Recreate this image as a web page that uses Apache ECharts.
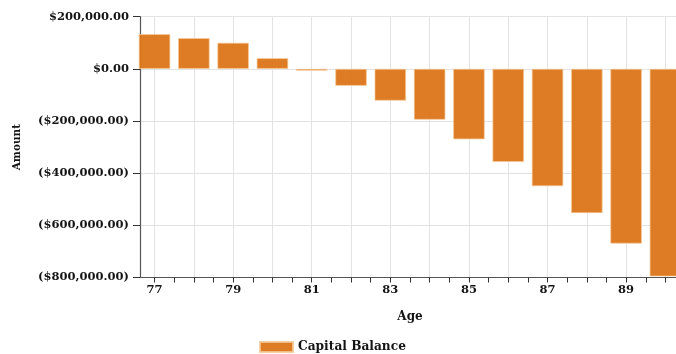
<!DOCTYPE html>
<html>
<head>
<meta charset="utf-8">
<script src="https://cdn.jsdelivr.net/npm/echarts@6/dist/echarts.min.js"></script>
<style>html,body{margin:0;padding:0;background:#fff}#c{width:676px;height:354px}</style>
</head>
<body>
<div id="c"></div>
<script>
const ages = [77, 78, 79, 80, 81, 82, 83, 84, 85, 86, 87, 88, 89, 90];
const capitalBalance = [133000, 118000, 100000, 41000, -7000, -65000, -122000, -195000, -270000, -357000, -450000, -553000, -670000, -796000];
const ageLabels = [77, 79, 81, 83, 85, 87, 89];
const yTicks = [-800000, -600000, -400000, -200000, 0, 200000];
const seriesName = 'Capital Balance';

const FONT = 'DejaVu Serif';
const TXT = '#141414';
const xMin = 76.63, xMax = 90.6;
const halfTicks = [];
ages.forEach(a => { halfTicks.push(a); halfTicks.push(a + 0.5); });

function money(v) {
  const s = '$' + Math.abs(v).toLocaleString('en-US', {minimumFractionDigits: 2, maximumFractionDigits: 2});
  return v < 0 ? '(' + s + ')' : s;
}

const chart = echarts.init(document.getElementById('c'), null, {renderer: 'canvas'});
chart.setOption({
  animation: false,
  grid: {left: 140, width: 549, top: 16.7, bottom: 76.5, containLabel: false, outerBoundsMode: 'none'},
  legend: {
    data: [seriesName], left: 259, top: 341, icon: 'rect', itemWidth: 33, itemHeight: 10, itemGap: 10, padding: 0,
    textStyle: {fontFamily: FONT, fontWeight: 'bold', fontSize: 12.2, color: TXT}
  },
  xAxis: [{
    type: 'value', min: xMin, max: xMax,
    name: 'Age', nameLocation: 'middle', nameGap: 33,
    nameTextStyle: {fontFamily: FONT, fontWeight: 'bold', fontSize: 12, color: TXT, padding: [0, 0, 0, -9]},
    axisLine: {show: true, onZero: false, lineStyle: {color: '#555', width: 1.2}},
    axisTick: {show: true, length: 5, customValues: halfTicks, lineStyle: {color: '#333'}},
    splitLine: {show: false},
    axisLabel: {
      margin: 7, fontFamily: FONT, fontWeight: 'bold', fontSize: 11.5, color: TXT,
      customValues: ageLabels, formatter: v => String(Math.round(v))
    }
  }, {
    type: 'value', min: xMin, max: xMax, position: 'bottom',
    axisLine: {show: false}, axisLabel: {show: false},
    axisTick: {show: false, customValues: ages},
    splitLine: {show: true, lineStyle: {color: '#e3e3e3', width: 1}}
  }],
  yAxis: {
    type: 'value', min: yTicks[0], max: yTicks[yTicks.length - 1], interval: 200000,
    name: 'Amount', nameLocation: 'middle', nameGap: 117, nameRotate: 90,
    nameTextStyle: {fontFamily: FONT, fontWeight: 'bold', fontSize: 10.5, color: TXT},
    axisLine: {show: true, lineStyle: {color: '#555', width: 1.2}},
    axisTick: {show: true, length: 7, lineStyle: {color: '#333'}},
    splitLine: {show: true, lineStyle: {color: '#e3e3e3', width: 1}},
    axisLabel: {margin: 11, fontFamily: FONT, fontWeight: 'bold', fontSize: 11.5, color: TXT, formatter: money}
  },
  series: [{
    name: seriesName, type: 'bar', xAxisIndex: 0, barWidth: 31.5, clip: true,
    data: ages.map((a, i) => [a, capitalBalance[i]]),
    itemStyle: {color: '#dd771c', opacity: 0.96, borderColor: 'rgba(245,200,150,0.9)', borderWidth: 0.8}
  }]
});
</script>
</body>
</html>
